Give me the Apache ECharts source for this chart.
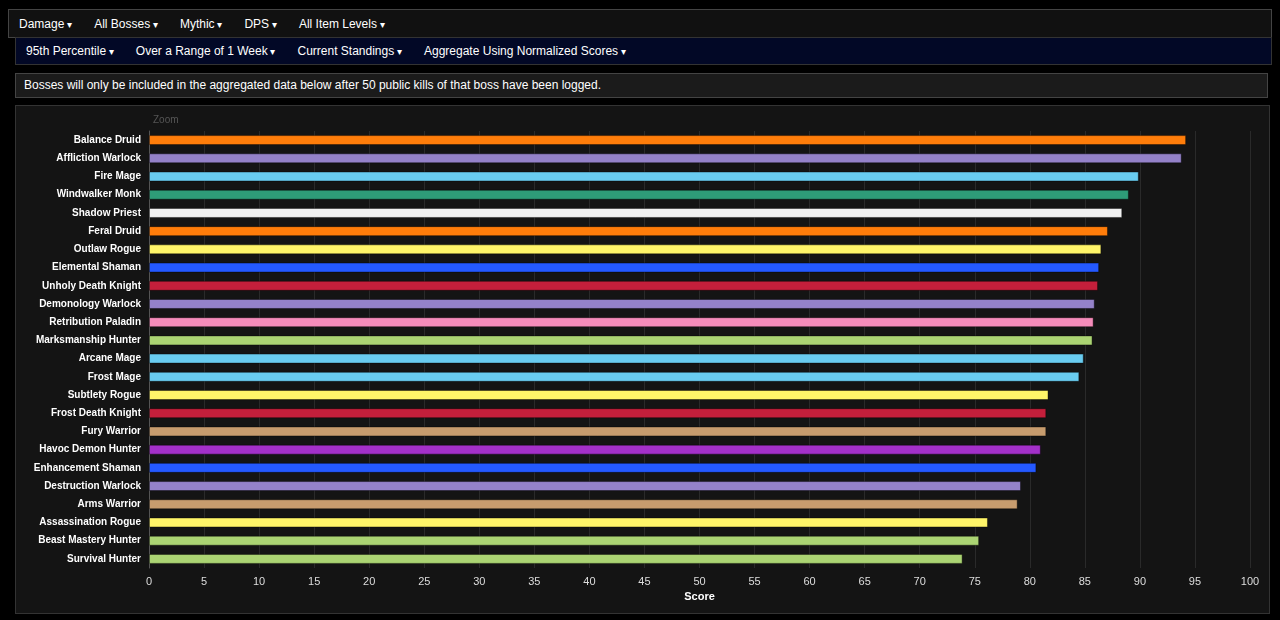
<!DOCTYPE html>
<html>
<head>
<meta charset="utf-8">
<script src="https://cdn.jsdelivr.net/npm/echarts@6/dist/echarts.min.js"></script>
<style>
body { margin: 0; background: #000; font-family: Arial, "Liberation Sans", sans-serif; font-size: 12px; color: #fff; }
.bar { position: absolute; left: 8px; right: 8px; display: flex; align-items: center; }
.bar span { margin-left: 10px; margin-right: 12px; }
.bar span:after { content: " \25BE"; font-size: 10px; }
#nav1 { top: 9px; height: 27px; background: #111; border: 1px solid #444; }
#nav2 { top: 37px; height: 26px; background: #020826; border: 1px solid #333; left: 15px; }
#notice { position: absolute; left: 15px; right: 12px; top: 73px; height: 23px; background: #1b1b1b; border: 1px solid #444; line-height: 23px; padding-left: 8px; }
#main { position: absolute; left: 15px; top: 105px; width: 1253px; height: 507px; background: #141414; border: 1px solid #333; }
</style>
</head>
<body>
<div class="bar" id="nav1"><span>Damage</span><span>All Bosses</span><span>Mythic</span><span>DPS</span><span>All Item Levels</span></div>
<div class="bar" id="nav2"><span>95th Percentile</span><span>Over a Range of 1 Week</span><span>Current Standings</span><span>Aggregate Using Normalized Scores</span></div>
<div id="notice">Bosses will only be included in the aggregated data below after 50 public kills of that boss have been logged.</div>
<div id="main"></div>
<script>
var specs = ['Balance Druid', 'Affliction Warlock', 'Fire Mage', 'Windwalker Monk', 'Shadow Priest', 'Feral Druid',
    'Outlaw Rogue', 'Elemental Shaman', 'Unholy Death Knight', 'Demonology Warlock', 'Retribution Paladin',
    'Marksmanship Hunter', 'Arcane Mage', 'Frost Mage', 'Subtlety Rogue', 'Frost Death Knight', 'Fury Warrior',
    'Havoc Demon Hunter', 'Enhancement Shaman', 'Destruction Warlock', 'Arms Warrior', 'Assassination Rogue',
    'Beast Mastery Hunter', 'Survival Hunter'];
var scores = [94.2, 93.8, 89.9, 89.0, 88.4, 87.1, 86.5, 86.3, 86.2, 85.9, 85.8, 85.7, 84.9, 84.5,
    81.7, 81.5, 81.5, 81.0, 80.6, 79.2, 78.9, 76.2, 75.4, 73.9];
var colors = ['#ff7d0a', '#9482c9', '#69ccf0', '#2e9c78', '#f0f0f0', '#ff7d0a', '#fff569', '#2459ff', '#c41f3b',
    '#9482c9', '#f58cba', '#abd473', '#69ccf0', '#69ccf0', '#fff569', '#c41f3b', '#c79c6e', '#a330c9', '#2459ff',
    '#9482c9', '#c79c6e', '#fff569', '#abd473', '#abd473'];

var myChart = echarts.init(document.getElementById('main'));
myChart.setOption({
    animation: false,
    title: {
        text: 'Zoom', left: 132, top: 4,
        textStyle: { color: '#555', fontSize: 10, fontWeight: 'normal' }
    },
    grid: { left: 133, right: 19, top: 25, bottom: 45 },
    xAxis: {
        type: 'value', min: 0, max: 100, interval: 5,
        name: 'Score', nameLocation: 'middle', nameGap: 22,
        nameTextStyle: { color: '#fff', fontWeight: 'bold', fontSize: 11 },
        axisLabel: { color: '#ddd', fontSize: 11 },
        axisLine: { show: false },
        splitLine: { lineStyle: { color: '#2a2a2a' } }
    },
    yAxis: {
        type: 'category', inverse: true, data: specs,
        axisLabel: { color: '#fff', fontSize: 10, fontWeight: 'bold' },
        axisLine: { lineStyle: { color: '#555' } },
        axisTick: { show: false }
    },
    series: [{
        type: 'bar', barWidth: 10,
        data: scores.map(function (v, i) {
            return { value: v, itemStyle: { color: colors[i], borderColor: 'rgba(0,0,0,0.4)', borderWidth: 1 } };
        })
    }]
});
</script>
</body>
</html>
